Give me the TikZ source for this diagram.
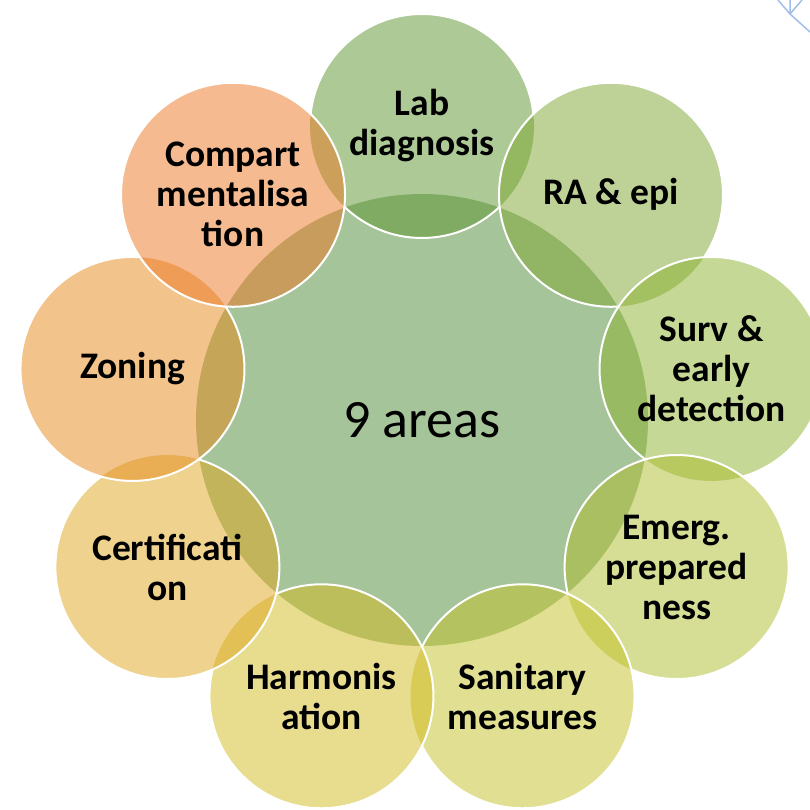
\documentclass[tikz,border=0pt]{standalone}
\usepackage{fontspec}
\setmainfont{Carlito}

% fills as they look at half opacity
\definecolor{ctrclr}{RGB}{77,137,53}
\definecolor{labclr}{RGB}{91,147,45}
\definecolor{raclr}{RGB}{125,165,49}
\definecolor{survclr}{RGB}{139,177,45}
\definecolor{emergclr}{RGB}{173,187,41}
\definecolor{sanitclr}{RGB}{195,193,37}
\definecolor{harmclr}{RGB}{209,185,29}
\definecolor{certclr}{RGB}{221,165,29}
\definecolor{zoneclr}{RGB}{229,137,25}
\definecolor{compclr}{RGB}{235,117,33}
\definecolor{handleclr}{RGB}{160,190,232}

\tikzset{
  area/.style={circle, minimum size=224pt, inner sep=0pt, fill opacity=0.5,
    text opacity=1, align=center, font=\fontsize{37.5}{40}\selectfont\bfseries},
  rim/.style={draw=white, line width=2pt}
}

\begin{document}
\begin{tikzpicture}[x=1pt,y=1pt]
  \useasboundingbox (-422,-389) rectangle (388,420);
  \clip (-422,-389) rectangle (388,420);

  % middle
  \node[circle, minimum size=452pt, fill=ctrclr, fill opacity=0.5, text opacity=1,
    font=\fontsize{54}{60}\selectfont] (ctr) at (0,0) {9 areas};

  % the nine areas, clockwise from the top
  \foreach \nm/\ang/\clr/\txt in {
      lab/90/labclr/{Lab\\diagnosis},
      ra/50/raclr/{RA \& epi},
      surv/10/survclr/{Surv \&\\early\\detection},
      emerg/-30/emergclr/{Emerg.\\prepared\\ness},
      sanit/-70/sanitclr/{Sanitary\\measures},
      harm/-110/harmclr/{Harmonis\\ation},
      cert/-150/certclr/{Certificati\\on},
      zone/170/zoneclr/{Zoning},
      comp/130/compclr/{Compart\\mentalisa\\tion}}
    \node[area, fill=\clr] (\nm) at (\ang:294) {\txt};

  % white rims, hidden under the next circle
  \foreach \a/\b in {ra/surv, surv/emerg, emerg/sanit, sanit/harm,
      harm/cert, cert/zone, zone/comp}{
    \begin{scope}[even odd rule]
      \clip (-500,500) rectangle (500,-500) (\b.center) circle (112);
      \draw[rim] (\a.center) circle (112);
    \end{scope}
  }
  \begin{scope}[even odd rule]
    \clip (-500,500) rectangle (500,-500) (ra.center) circle (112)
      (comp.center) circle (112);
    \draw[rim] (lab.center) circle (112);
  \end{scope}
  \draw[rim] (comp.center) circle (112);

  % bit of a handle in the corner
  \draw[handleclr, line width=1.5pt] (356,420) -- (368,406) -- (380,420)
    (368,420) -- (368,406) -- (388,388);
\end{tikzpicture}
\end{document}
